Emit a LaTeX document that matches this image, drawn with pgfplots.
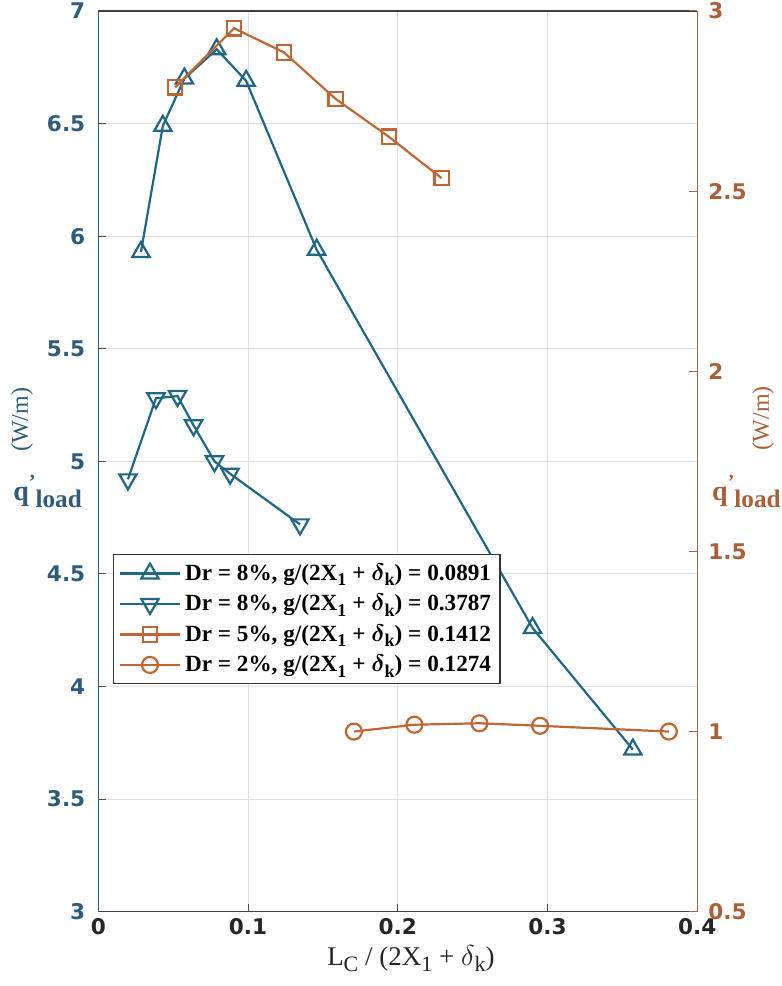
\documentclass[border=0pt]{standalone}
\usepackage{fontspec}
\usepackage{amsmath}
\usepackage{pgfplots}
\pgfplotsset{compat=1.18}
\setmainfont{Liberation Serif}
\newfontfamily\tickfont{DejaVu Sans}
\definecolor{lineblue}{RGB}{32,102,133}
\definecolor{lineorange}{RGB}{192,102,52}
\definecolor{tickblue}{RGB}{48,92,122}
\definecolor{tickbrown}{RGB}{168,96,56}
\definecolor{gridc}{RGB}{222,226,230}
\newcommand{\lsub}[1]{\raisebox{-0.5ex}{\fontsize{9}{10}\selectfont #1}}
\newcommand{\leg}[2]{Dr = #1\%, g/(2X\lsub{1} + $\boldsymbol{\delta}$\lsub{k}) = #2}
\pgfplotsset{
  mylegimg/.style={legend image code/.code={
    \draw[mark repeat=2,mark phase=2] plot coordinates {(0pt,0pt) (15pt,0pt) (30pt,0pt)};}},
  tl/.style={font=\tickfont\bfseries\fontsize{10.8}{12}\selectfont}
}
\begin{document}
\begin{tikzpicture}
\begin{axis}[
  name=ax, scale only axis, width=299.5pt, height=450.35pt,
  xmin=0, xmax=0.4, ymin=3, ymax=7,
  xtick={0,0.1,0.2,0.3,0.4}, ytick={3,3.5,4,4.5,5,5.5,6,6.5,7},
  xtick pos=bottom, ytick pos=left,
  grid=major, grid style={gridc, line width=0.5pt},
  separate axis lines,
  x axis line style={draw=black!75, line width=0.6pt},
  y axis line style={draw=tickblue, line width=0.6pt},
  major tick length=4pt,
  tick style={black!70, line width=0.5pt},
  /pgf/number format/assume math mode=true,
  xticklabel style={tl, text=black!85},
  yticklabel style={tl, text=tickblue, xshift=-3pt},
  clip=false,
]
\addplot[lineblue, line width=1.1pt, mark=triangle, mark size=5pt, mark options={solid, line width=1.1pt}] coordinates {
 (0.0285,5.93) (0.0431,6.49) (0.0575,6.70) (0.0791,6.83) (0.0987,6.69) (0.1458,5.94) (0.2900,4.26) (0.3570,3.72)};
\addplot[lineblue, line width=1.1pt, mark=triangle, mark size=5pt, mark options={solid, rotate=180, line width=1.1pt}] coordinates {
 (0.0198,4.92) (0.0385,5.28) (0.0529,5.29) (0.0636,5.16) (0.0776,5.00) (0.0880,4.945) (0.1347,4.72)};
\node[rotate=90, text=tickblue, font=\fontsize{12}{13}\selectfont] at (rel axis cs:-0.1274,0.546) {(W/m)};
\node[anchor=base west, text=tickblue, inner sep=0pt, font=\bfseries\fontsize{14}{15}\selectfont] at (rel axis cs:-0.1424,0.457) {q\raisebox{0.9ex}{\fontsize{10}{11}\selectfont '}\raisebox{-0.6ex}{\fontsize{12.6}{14}\selectfont load}};
\node[anchor=base, text=black!85, font=\fontsize{13.5}{15}\selectfont] at (rel axis cs:0.522,-0.0592) {L\raisebox{-0.5ex}{\fontsize{11}{12}\selectfont C} / (2X\raisebox{-0.5ex}{\fontsize{11}{12}\selectfont 1} + $\delta$\raisebox{-0.5ex}{\fontsize{11}{12}\selectfont k})};
\end{axis}
\begin{axis}[
  scale only axis, width=299.5pt, height=450.35pt,
  xmin=0, xmax=0.4, ymin=0.5, ymax=3,
  axis x line=none, axis y line*=right,
  ytick={0.5,1,1.5,2,2.5,3},
  y axis line style={draw=tickbrown!70!gray, line width=0.6pt},
  major tick length=4pt,
  tick style={tickbrown!70!gray, line width=0.5pt},
  /pgf/number format/assume math mode=true,
  yticklabel style={tl, text=tickbrown, xshift=2pt},
  clip=false,
  legend cell align=left,
  legend style={at={(rel axis cs:0.025,0.397)}, anchor=north west, draw=black!80, line width=0.6pt, fill=white,
    font=\bfseries\fontsize{11.6}{13}\selectfont, row sep=1.4pt, inner sep=2.5pt},
]
\addlegendimage{lineblue, line width=1.1pt, mark=triangle, mark size=5pt, mark options={solid, line width=1.1pt}, mylegimg}
\addlegendentry{\leg{8}{0.0891}}
\addlegendimage{lineblue, line width=1.1pt, mark=triangle, mark size=5pt, mark options={solid, rotate=180, line width=1.1pt}, mylegimg}
\addlegendentry{\leg{8}{0.3787}}
\addplot[lineorange, line width=1.1pt, mark=square, mark size=3.6pt, mark options={solid, line width=1.1pt}, mylegimg] coordinates {
 (0.0513,2.788) (0.0907,2.952) (0.1240,2.885) (0.1585,2.756) (0.1940,2.651) (0.2293,2.536)};
\addlegendentry{\leg{5}{0.1412}}
\addplot[lineorange, line width=1.1pt, mark=o, mark size=4pt, mark options={solid, line width=1.1pt}, mylegimg] coordinates {
 (0.1707,1.000) (0.2111,1.019) (0.2545,1.023) (0.2950,1.016) (0.3810,1.000)};
\addlegendentry{\leg{2}{0.1274}}
\node[rotate=90, text=tickbrown, font=\fontsize{12}{13}\selectfont] at (rel axis cs:1.1097,0.548) {(W/m)};
\node[anchor=base west, text=tickbrown, inner sep=0pt, font=\bfseries\fontsize{14}{15}\selectfont] at (rel axis cs:1.0242,0.457) {q\raisebox{0.9ex}{\fontsize{10}{11}\selectfont '}\raisebox{-0.6ex}{\fontsize{12.6}{14}\selectfont load}};
\end{axis}
\pgfresetboundingbox
\path ([xshift=-49.15pt,yshift=-37.15pt]ax.south west) rectangle ([xshift=42.35pt,yshift=5.5pt]ax.north east);
\end{tikzpicture}
\end{document}
